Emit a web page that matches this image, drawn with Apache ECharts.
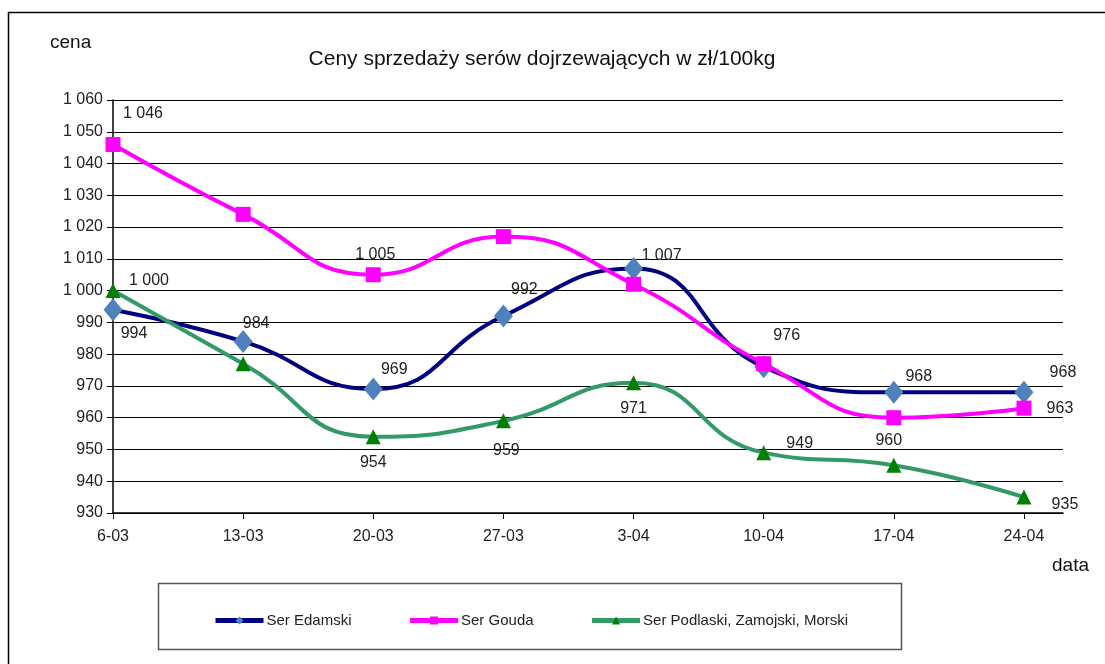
<!DOCTYPE html>
<html>
<head>
<meta charset="utf-8">
<title>Ceny sprzedaży serów dojrzewających</title>
<script src="https://cdn.jsdelivr.net/npm/echarts@6/dist/echarts.min.js"></script>
<style>
    html, body { margin: 0; padding: 0; background: #fff; }
    #chart { width: 1105px; height: 664px; }
</style>
</head>
<body>
<div id="chart"></div>
<script>
    "use strict";

    var categories = ['6-03', '13-03', '20-03', '27-03', '3-04', '10-04', '17-04', '24-04'];
    var edamski = [994, 984, 969, 992, 1007, 976, 968, 968];
    var gouda = [1046, 1024, 1005, 1017, 1002, 977, 960, 963];
    var podlaski = [1000, 977, 954, 959, 971, 949, 945, 935];
    var yTicks = [930, 940, 950, 960, 970, 980, 990, 1000, 1010, 1020, 1030, 1040, 1050, 1060];

    // which points carry a value label, and where (offset from the marker)
    var edamskiLabels = {0: [21, 24], 1: [13, -18], 2: [21, -20], 3: [21, -26], 4: [28, -13], 5: [23, -31], 6: [25, -16], 7: [39, -20]};
    var goudaLabels = {0: [30, -31], 2: [2, -20], 6: [-5, 23], 7: [36, 0]};
    var podlaskiLabels = {0: [36, -10], 2: [0, 26], 3: [3, 30], 4: [0, 26], 5: [36, -9], 7: [41, 7]};

    var font = 'Liberation Sans, Arial, sans-serif';

    function fmt(v) {
        var s = String(v);
        return s.length > 3 ? s.slice(0, s.length - 3) + ' ' + s.slice(-3) : s;
    }

    function points(values, labels) {
        return values.map(function (v, i) {
            var item = {value: [i, v]};
            if (labels[i]) {
                item.label = {show: true, position: 'inside', offset: labels[i]};
            }
            return item;
        });
    }

    function lineSeries(name, values, labels, lineColor, markColor, symbol, size) {
        return {
            name: name,
            type: 'line',
            smooth: 0.5,
            data: points(values, labels),
            symbol: symbol,
            symbolSize: size,
            showAllSymbol: true,
            lineStyle: {color: lineColor, width: 4},
            itemStyle: {color: markColor},
            label: {
                show: false,
                color: '#222',
                fontFamily: font,
                fontSize: 16,
                formatter: function (p) { return fmt(p.value[1]); }
            },
            emphasis: {disabled: true},
            z: 3
        };
    }

    var chart = echarts.init(document.getElementById('chart'));
    chart.setOption({
        animation: false,
        backgroundColor: '#fff',
        title: {
            text: 'Ceny sprzedaży serów dojrzewających w zł/100kg',
            left: 537,
            textAlign: 'center',
            top: 44,
            textStyle: {fontFamily: font, fontSize: 21, fontWeight: 'normal', color: '#111'}
        },
        legend: {
            left: 208,
            top: 608,
            itemWidth: 48,
            itemHeight: 10,
            itemGap: 56,
            lineStyle: {width: 5},
            textStyle: {fontFamily: font, fontSize: 15, color: '#222', padding: [0, 0, 0, -2]},
            data: ['Ser Edamski', 'Ser Gouda', 'Ser Podlaski, Zamojski, Morski']
        },
        grid: {left: 113, top: 100, right: 42, bottom: 151, containLabel: false},
        xAxis: {
            type: 'value',
            min: 0,
            max: 7.3,
            interval: 1,
            axisLine: {show: true, lineStyle: {color: '#000', width: 1.5}},
            axisTick: {show: true, length: 6, customValues: [0, 1, 2, 3, 4, 5, 6, 7], lineStyle: {color: '#000'}},
            splitLine: {show: false},
            axisLabel: {
                customValues: [0, 1, 2, 3, 4, 5, 6, 7],
                formatter: function (v) { return categories[v] || ''; },
                fontFamily: font, fontSize: 16, color: '#222', margin: 16
            }
        },
        yAxis: {
            type: 'value',
            min: yTicks[0],
            max: yTicks[yTicks.length - 1],
            interval: 10,
            axisLine: {show: true, lineStyle: {color: '#000', width: 1.5}},
            axisTick: {show: true, length: 6, inside: false, lineStyle: {color: '#000'}},
            splitLine: {show: true, lineStyle: {color: '#000', width: 1}},
            axisLabel: {formatter: fmt, fontFamily: font, fontSize: 16, color: '#222', margin: 10}
        },
        graphic: [
            {type: 'rect', shape: {x: 8.5, y: 12.5, width: 1200, height: 800}, style: {fill: 'none', stroke: '#000', lineWidth: 1.5}, silent: true},
            {type: 'rect', shape: {x: 158.5, y: 583.5, width: 743, height: 66}, style: {fill: 'none', stroke: '#555', lineWidth: 1.5}, silent: true},
            {type: 'text', left: 50, top: 33, style: {text: 'cena', font: '19px ' + font, fill: '#111'}},
            {type: 'text', left: 1052, top: 556, style: {text: 'data', font: '19px ' + font, fill: '#111'}}
        ],
        series: [
            lineSeries('Ser Edamski', edamski, edamskiLabels, '#000080', '#4F81BD', 'diamond', [19, 23]),
            lineSeries('Ser Gouda', gouda, goudaLabels, '#FF00FF', '#FF00FF', 'rect', 15),
            lineSeries('Ser Podlaski, Zamojski, Morski', podlaski, podlaskiLabels, '#339966', '#008000', 'triangle', 15)
        ]
    });

    window.onresize = function () {
        chart.resize();
    };
</script>
</body>
</html>
